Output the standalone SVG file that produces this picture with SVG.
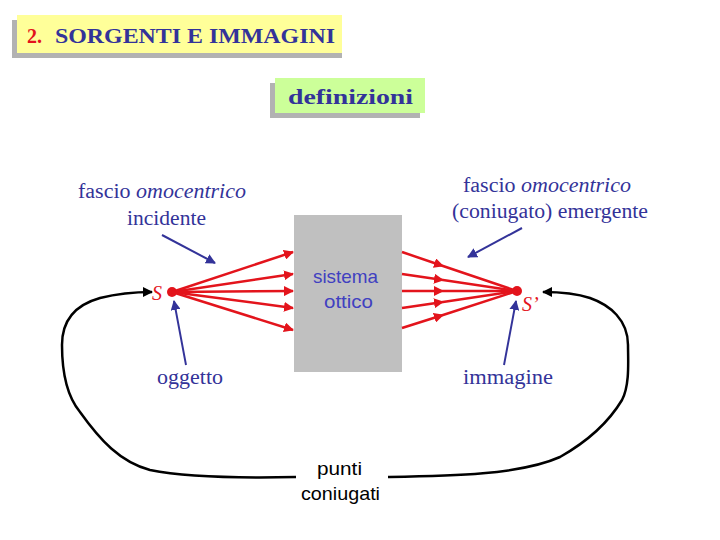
<svg xmlns="http://www.w3.org/2000/svg" width="720" height="540" viewBox="0 0 720 540">
<style>
.t{font-family:'Liberation Serif','Times New Roman',serif;font-size:20px;fill:#333399}
.s{font-family:'Liberation Sans',Arial,sans-serif;font-size:19px}
.ray{stroke:#E3141C;stroke-width:2.5;fill:none}
.blue{stroke:#333399;stroke-width:2;fill:none}
.blk{stroke:#000;stroke-width:2.5;fill:none}
</style>
<defs>
<marker id="ar" viewBox="0 0 10 10" refX="9" refY="5" markerWidth="4" markerHeight="4" orient="auto" markerUnits="strokeWidth"><path d="M0,0 L10,5 L0,10 z" fill="#E3141C"/></marker>
<marker id="ab" viewBox="0 0 10 10" refX="9" refY="5" markerWidth="5" markerHeight="5" orient="auto" markerUnits="strokeWidth"><path d="M0,0 L10,5 L0,10 z" fill="#333399"/></marker>
<marker id="ak" viewBox="0 0 10 10" refX="9" refY="5" markerWidth="4" markerHeight="4" orient="auto" markerUnits="strokeWidth"><path d="M0,0 L10,5 L0,10 z" fill="#000"/></marker>
</defs>
<rect width="720" height="540" fill="#fff"/>
<g id="title">
<rect x="12" y="20" width="330" height="38" fill="#B2B2B2"/>
<rect x="17" y="15" width="325" height="38" fill="#FFFF99"/>
<text x="27" y="43" style="font-family:'Liberation Serif',serif;font-size:20px;font-weight:bold;fill:#E3141C">2.</text>
<text x="55" y="43" textLength="280" lengthAdjust="spacingAndGlyphs" style="font-family:'Liberation Serif',serif;font-size:20px;font-weight:bold;fill:#333399">SORGENTI E IMMAGINI</text>
</g>
<g id="definizioni">
<rect x="270" y="83" width="150" height="35" fill="#B2B2B2"/>
<rect x="275" y="78" width="150" height="35" fill="#CCFF99"/>
<text x="288" y="104" textLength="125" lengthAdjust="spacingAndGlyphs" style="font-family:'Liberation Serif',serif;font-size:22px;font-weight:bold;fill:#333399">definizioni</text>
</g>
<g id="sistema">
<rect x="294" y="215" width="108" height="157" fill="#C0C0C0"/>
<text class="s" x="313" y="283" textLength="65" lengthAdjust="spacingAndGlyphs" fill="#4040C0">sistema</text>
<text class="s" x="324" y="308" textLength="49" lengthAdjust="spacingAndGlyphs" fill="#4040C0">ottico</text>
</g>
<g id="label-incidente">
<text class="t" x="78" y="198" textLength="168" lengthAdjust="spacingAndGlyphs">fascio <tspan font-style="italic">omocentrico</tspan></text>
<text class="t" x="127" y="225" textLength="79" lengthAdjust="spacingAndGlyphs">incidente</text>
</g>
<g id="label-emergente">
<text class="t" x="463" y="192" textLength="168" lengthAdjust="spacingAndGlyphs">fascio <tspan font-style="italic">omocentrico</tspan></text>
<text class="t" x="452" y="218" textLength="196" lengthAdjust="spacingAndGlyphs">(coniugato) emergente</text>
</g>
<g id="S">
<circle cx="172" cy="292" r="5" fill="#E3141C"/>
<text x="152" y="300" style="font-family:'Liberation Serif',serif;font-size:20px;font-style:italic;fill:#E3141C">S</text>
</g>
<g id="S1">
<circle cx="517" cy="291" r="5" fill="#E3141C"/>
<text x="522" y="311" style="font-family:'Liberation Serif',serif;font-size:20px;font-style:italic;fill:#E3141C">S’</text>
</g>
<g id="oggetto"><text class="t" x="157" y="384" textLength="66" lengthAdjust="spacingAndGlyphs">oggetto</text></g>
<g id="immagine"><text class="t" x="463" y="384" textLength="90" lengthAdjust="spacingAndGlyphs">immagine</text></g>
<g id="punti">
<text class="s" x="317" y="475" textLength="45" lengthAdjust="spacingAndGlyphs">punti</text>
<text class="s" x="301" y="500" textLength="79" lengthAdjust="spacingAndGlyphs">coniugati</text>
</g>
<g id="connectors">
<path class="ray" marker-end="url(#ar)" d="M172,292 L293,252"/>
<path class="ray" marker-end="url(#ar)" d="M172,292 L293,274"/>
<path class="ray" marker-end="url(#ar)" d="M172,292 L293,291"/>
<path class="ray" marker-end="url(#ar)" d="M172,292 L293,308"/>
<path class="ray" marker-end="url(#ar)" d="M172,292 L293,330"/>
<path class="ray" marker-mid="url(#ar)" d="M402,252 L443,266 L517,291"/>
<path class="ray" marker-mid="url(#ar)" d="M402,274 L443,280 L517,291"/>
<path class="ray" marker-mid="url(#ar)" d="M402,291 L443,291 L517,291"/>
<path class="ray" marker-mid="url(#ar)" d="M402,308 L443,302 L517,291"/>
<path class="ray" marker-mid="url(#ar)" d="M402,328 L443,315 L517,291"/>
<path class="blue" marker-end="url(#ab)" d="M162,235 L215,263"/>
<path class="blue" marker-end="url(#ab)" d="M522,228 L468,257"/>
<path class="blue" marker-end="url(#ab)" d="M186,365 L174,301"/>
<path class="blue" marker-end="url(#ab)" d="M504,365 L516,301"/>
<path class="blk" marker-end="url(#ak)" d="M296,477 C250,478 190,478 150,470 C120,462 100,440 80,412 C66,395 62,370 62,345 C62,320 75,305 100,298 C120,293 135,292 152,292"/>
<path class="blk" marker-end="url(#ak)" d="M388,477 C450,476 520,475 560,457 C590,440 610,420 622,400 C630,385 628,360 628,345 C628,320 610,305 590,298 C575,293 560,292 543,292"/>
</g>
</svg>
